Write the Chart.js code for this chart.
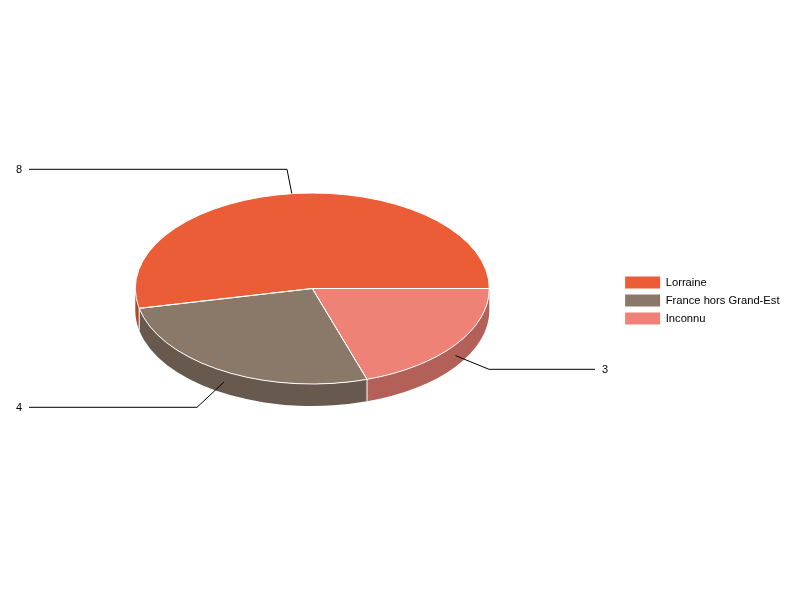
<!DOCTYPE html>
<html>
<head>
<meta charset="utf-8">
<style>
    html, body { margin: 0; padding: 0; background: #fff; }
    canvas { display: block; }
</style>
<script src="https://cdn.jsdelivr.net/npm/chart.js@4/dist/chart.umd.min.js"></script>
</head>
<body>
<canvas id="pieChart" width="800" height="600"></canvas>
<script>
const categories = ['Lorraine', 'France hors Grand-Est', 'Inconnu'];
const counts = [8, 4, 3];
const topColors = ['#ea5d36', '#8a7868', '#ef8276'];
const wallColors = ['#b04728', '#67594e', '#b36158'];

const FONT = '11px "Liberation Sans", Arial, sans-serif';
const SQUASH = 95.5 / 177;   // height / width of the tilted pie
const DEPTH = 22;
const SHIFT_Y = -12;         // pie sits above the vertical centre of the page

// leader lines: elbow point, end of the horizontal run, small nudge at the pie end
const elbows = [[287, 169], [197, 407], [489, 369]];
const runEnds = [29, 29, 595];
const textX = [16, 16, 602];
const leaderNudgeX = [-2, 0, 0];

const pie3d = {
    id: 'pie3d',
    beforeDatasetsDraw(chart) {
        const ctx = chart.ctx;
        const arcs = chart.getDatasetMeta(0).data;
        const cx = arcs[0].x;
        const cy = arcs[0].y + SHIFT_Y;
        const r = arcs[0].outerRadius;
        const ry = r * SQUASH;

        // side walls, only the front half of the pie shows
        arcs.forEach((arc, i) => {
            const a1 = Math.max(arc.startAngle, Math.PI);
            const a2 = Math.min(arc.endAngle, Math.PI * 2);
            if (a2 <= a1) return;
            ctx.beginPath();
            ctx.ellipse(cx, cy, r, ry, 0, -a1, -a2, true);
            ctx.ellipse(cx, cy + DEPTH, r, ry, 0, -a2, -a1, false);
            ctx.closePath();
            ctx.fillStyle = wallColors[i];
            ctx.fill();
        });

        // flip + squash so the library's arcs run counter-clockwise on an ellipse
        ctx.save();
        ctx.translate(cx, cy);
        ctx.scale(1, -SQUASH);
        ctx.translate(-arcs[0].x, -arcs[0].y);
    },
    afterDatasetsDraw(chart) {
        const ctx = chart.ctx;
        ctx.restore();

        const arcs = chart.getDatasetMeta(0).data;
        const cx = arcs[0].x;
        const cy = arcs[0].y + SHIFT_Y;
        const r = arcs[0].outerRadius;
        const ry = r * SQUASH;

        // white outlines
        ctx.strokeStyle = '#fff';
        ctx.lineWidth = 1;
        arcs.forEach(arc => {
            ctx.beginPath();
            ctx.moveTo(cx, cy);
            ctx.ellipse(cx, cy, r, ry, 0, -arc.startAngle, -arc.endAngle, true);
            ctx.closePath();
            ctx.stroke();
            const a = arc.endAngle;
            if (a > Math.PI && a < Math.PI * 2) {
                const x = cx + r * Math.cos(a);
                const y = cy - ry * Math.sin(a);
                ctx.beginPath();
                ctx.moveTo(x, y);
                ctx.lineTo(x, y + DEPTH);
                ctx.stroke();
            }
        });

        // leader lines and values
        ctx.font = FONT;
        ctx.textBaseline = 'middle';
        ctx.textAlign = 'left';
        arcs.forEach((arc, i) => {
            const mid = (arc.startAngle + arc.endAngle) / 2;
            const sin = Math.sin(mid);
            const endX = cx + r * Math.cos(mid) + leaderNudgeX[i];
            const endY = cy - ry * sin + (sin < 0 ? DEPTH / 2 : 0);
            const [ex, ey] = elbows[i];
            ctx.strokeStyle = '#000';
            ctx.beginPath();
            ctx.moveTo(runEnds[i], ey + 0.3);
            ctx.lineTo(ex, ey + 0.3);
            ctx.lineTo(endX, endY);
            ctx.stroke();
            ctx.fillStyle = '#000';
            ctx.fillText(String(counts[i]), textX[i], ey + 0.5);
        });
    }
};

new Chart(document.getElementById('pieChart'), {
    type: 'pie',
    data: {
        labels: categories,
        datasets: [{
            data: counts,
            backgroundColor: topColors,
            borderWidth: 0,
            hoverOffset: 0,
            clip: false
        }]
    },
    options: {
        responsive: false,
        animation: false,
        rotation: 90,
        radius: 177,
        layout: { padding: { left: 5.5, right: 10.5, top: 1 } },
        plugins: {
            tooltip: { enabled: false },
            legend: {
                position: 'right',
                labels: {
                    boxWidth: 35,
                    boxHeight: 12,
                    padding: 6,
                    color: '#000',
                    font: { family: '"Liberation Sans", Arial, sans-serif', size: 11.2 }
                }
            }
        }
    },
    plugins: [pie3d]
});
</script>
</body>
</html>
